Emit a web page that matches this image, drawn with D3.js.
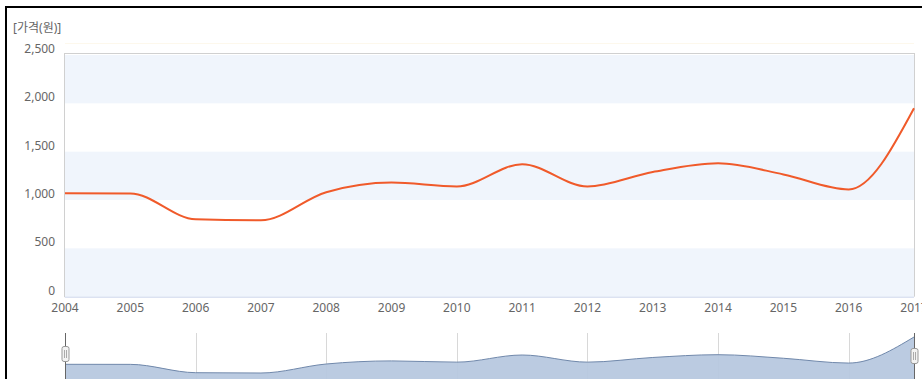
<!DOCTYPE html>
<html><head><meta charset="utf-8">
<script src="https://cdn.jsdelivr.net/npm/d3@7"></script>
<style>
html,body{margin:0;padding:0;background:#fff;}
svg{display:block;}
text{font-family:"Noto Sans","Noto Sans CJK KR",sans-serif;}
</style></head><body>
<svg id="c" width="922" height="379"></svg>
<script>
const years = [2004,2005,2006,2007,2008,2009,2010,2011,2012,2013,2014,2015,2016,2017];
const prices = [1070,1068,800,790,1080,1180,1140,1370,1140,1290,1380,1265,1110,1950];
const yTicks = [0,500,1000,1500,2000,2500];
const yTickLabels = ["0","500","1,000","1,500","2,000","2,500"];
const navGridYears = [2006,2008,2010,2012,2014,2016];
const yTitle = "[가격(원)]";

const svg = d3.select("#c");
const L = 65, R = 914, T = 55, B = 296.7;
const x = d3.scaleLinear().domain([2004,2017]).range([L,R]);
const y = d3.scaleLinear().domain([0,2500]).range([B,T]);

// frame
svg.append("line").attr("x1",6).attr("x2",922).attr("y1",7).attr("y2",7).attr("stroke","#000").attr("stroke-width",2);
svg.append("line").attr("x1",6).attr("x2",6).attr("y1",6).attr("y2",379).attr("stroke","#000").attr("stroke-width",2);

// faint line above plot
svg.append("line").attr("x1",L).attr("x2",R).attr("y1",43.5).attr("y2",43.5).attr("stroke","#fdf8ec").attr("stroke-width",1);

// bands
for (let i=0;i<yTicks.length-1;i+=2){
  svg.append("rect").attr("x",L).attr("width",R-L)
    .attr("y",y(yTicks[i+1])).attr("height",y(yTicks[i])-y(yTicks[i+1]))
    .attr("fill","#f0f5fc");
}
// plot border
svg.append("line").attr("x1",L).attr("x2",R).attr("y1",53.5).attr("y2",53.5).attr("stroke","#d0d0d0");
svg.append("line").attr("x1",R+0.5).attr("x2",R+0.5).attr("y1",53).attr("y2",B).attr("stroke","#d0d0d0");
svg.append("line").attr("x1",L-0.5).attr("x2",L-0.5).attr("y1",53).attr("y2",B+0.5).attr("stroke","#d0d0d0");
svg.append("line").attr("x1",L).attr("x2",R).attr("y1",B+0.5).attr("y2",B+0.5).attr("stroke","#ccd6eb");

// y labels
svg.append("g").selectAll("text").data(yTicks).join("text")
  .attr("x",55).attr("y",d=>y(d)-2).attr("text-anchor","end")
  .attr("font-size",12).attr("fill","#666")
  .text((d,i)=>yTickLabels[i]);
svg.append("text").attr("x",13).attr("y",32).attr("font-size",12).attr("fill","#666")
  .attr("font-family","Noto Sans CJK KR").text(yTitle);

// x labels
svg.append("g").selectAll("text").data(years).join("text")
  .attr("x",d=>x(d)).attr("y",312).attr("text-anchor","middle")
  .attr("font-size",12).attr("fill","#666").text(d=>d);

// line
const line = d3.line().x((d,i)=>x(years[i])).y(d=>y(d)).curve(d3.curveMonotoneX);
svg.append("path").datum(prices).attr("d",line).attr("fill","none")
  .attr("stroke","#f05a2a").attr("stroke-width",2);

// navigator
const ny = d3.scaleLinear().domain(d3.extent(prices)).range([373,337]);
svg.append("g").selectAll("line").data(navGridYears).join("line")
  .attr("x1",d=>Math.round(x(d))+0.5).attr("x2",d=>Math.round(x(d))+0.5)
  .attr("y1",333).attr("y2",379).attr("stroke","#d8d8d8");
const area = d3.area().x((d,i)=>x(years[i])).y0(379).y1(d=>ny(d)).curve(d3.curveMonotoneX);
svg.append("path").datum(prices).attr("d",area).attr("fill","#b7c8df").attr("fill-opacity",0.95);
const nline = d3.line().x((d,i)=>x(years[i])).y(d=>ny(d)).curve(d3.curveMonotoneX);
svg.append("path").datum(prices).attr("d",nline).attr("fill","none").attr("stroke","#7088ab").attr("stroke-width",1);

// handles
[[2004,354],[2017,356]].forEach(([yr,cy])=>{
  const hx = Math.round(x(yr))+0.5;
  svg.append("line").attr("x1",hx).attr("x2",hx).attr("y1",333).attr("y2",379).attr("stroke","#666").attr("stroke-width",1);
  svg.append("rect").attr("x",hx-3.5).attr("y",cy-7.5).attr("width",7).attr("height",15).attr("rx",2)
    .attr("fill","#f2f2f2").attr("stroke","#999");
  svg.append("line").attr("x1",hx-1).attr("x2",hx-1).attr("y1",cy-4).attr("y2",cy+4).attr("stroke","#aaa");
  svg.append("line").attr("x1",hx+1).attr("x2",hx+1).attr("y1",cy-4).attr("y2",cy+4).attr("stroke","#aaa");
});
</script>
</body></html>
